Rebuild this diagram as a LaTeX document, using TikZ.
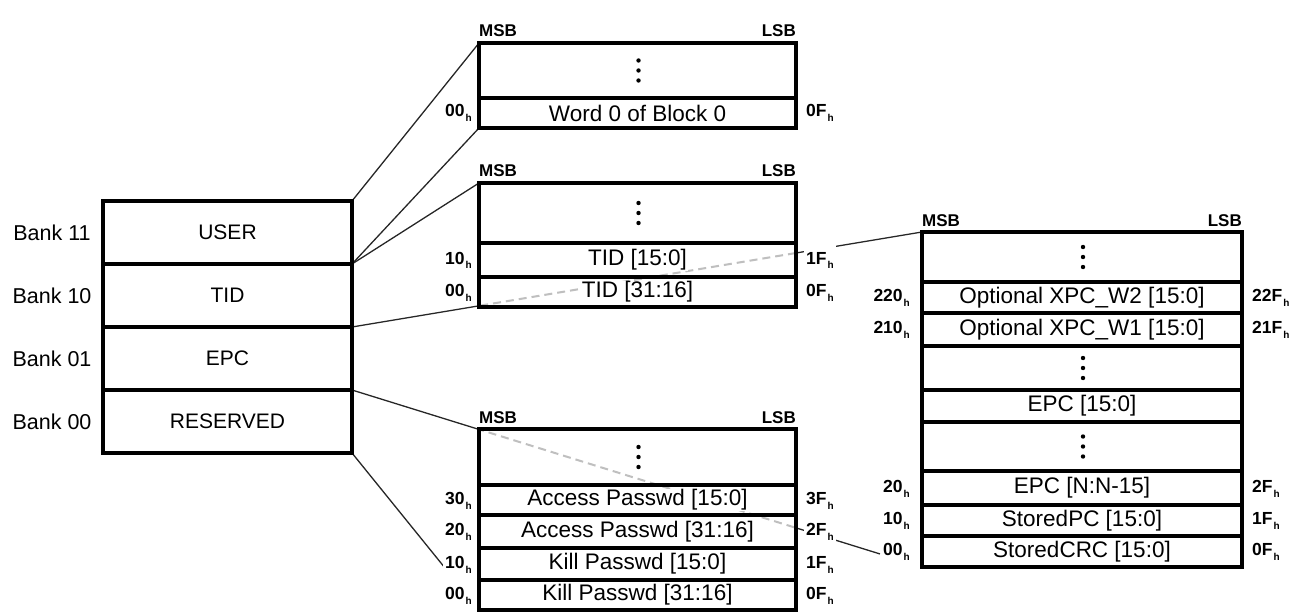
\documentclass[tikz,border=0pt]{standalone}
\usepackage{fontspec}
\setmainfont{Liberation Sans}
\usetikzlibrary{calc}
\pgfdeclarelayer{bg}
\pgfdeclarelayer{mid}
\pgfsetlayers{bg,mid,main}
\newcommand\wb[1]{{\setlength{\fboxsep}{1pt}\colorbox{white}{#1}}}
\newcommand\hx[1]{#1\kern1pt\raisebox{-5pt}{\fontsize{10}{10}\selectfont h}}
\tikzset{
  cellA/.style={draw, line width=3.2pt, inner sep=0pt, outer sep=0pt, minimum width=317pt, font=\fontsize{22.5}{24}\selectfont},
  cellB/.style={draw, line width=3.2pt, inner sep=0pt, outer sep=0pt, minimum width=320pt, font=\fontsize{22.5}{24}\selectfont},
  bank/.style={draw, line width=3.5pt, inner sep=0pt, outer sep=0pt, minimum width=249pt, minimum height=63pt, font=\fontsize{21}{24}\selectfont},
  banklbl/.style={font=\fontsize{21.5}{24}\selectfont, inner sep=0pt},
  bitlbl/.style={font=\bfseries\fontsize{17}{20}\selectfont, inner sep=0pt},
  addr/.style={font=\bfseries\fontsize{17.5}{20}\selectfont, fill=white, inner sep=2pt},
  blockframe/.style={line width=4.5pt},
  conn/.style={line width=1.3pt, draw=black!85},
  dashln/.style={line width=2pt, draw=black!25, dash pattern=on 8pt off 5pt},
  dotmark/.style={fill=black},
}
\begin{document}
\begin{tikzpicture}[x=1pt,y=-1pt]
\useasboundingbox (0,0) rectangle (1289,612);

% memory banks
\node[bank] (user) at (227.5,232.5) {USER};
\node[bank] (tid)  at (227.5,295.5) {TID};
\node[bank] (epc)  at (227.5,358.5) {EPC};
\node[bank] (res)  at (227.5,421.5) {RESERVED};
\draw[blockframe] (user.north west) rectangle (res.south east);
\node[banklbl] (b11) at (52,232.5) {Bank 11};
\node[banklbl] (b10) at (52,295.5) {Bank 10};
\node[banklbl] (b01) at (52,358.5) {Bank 01};
\node[banklbl] (b00) at (52,421.5) {Bank 00};

% USER block
\node[cellA, minimum height=55pt] (udots) at (637.5,70.5) {};
\node[cellA, minimum height=30pt] (uw0) at (637.5,113) {\wb{Word 0 of Block 0}};
\draw[blockframe] (udots.north west) rectangle (uw0.south east);

% TID block
\node[cellA, minimum height=60pt] (tdots) at (637.5,213) {};
\node[cellA, minimum height=34pt] (t15) at (637.5,260) {\wb{TID [15:0]}};
\node[cellA, minimum height=30pt] (t31) at (637.5,292) {\wb{TID [31:16]}};
\draw[blockframe] (tdots.north west) rectangle (t31.south east);

% RESERVED block
\node[cellA, minimum height=56pt] (rdots) at (637.5,457) {};
\node[cellA, minimum height=30pt] (a15) at (637.5,500) {\wb{Access Passwd [15:0]}};
\node[cellA, minimum height=33pt] (a31) at (637.5,531.5) {\wb{Access Passwd [31:16]}};
\node[cellA, minimum height=32pt] (k15) at (637.5,564) {\wb{Kill Passwd [15:0]}};
\node[cellA, minimum height=30pt] (k31) at (637.5,595) {\wb{Kill Passwd [31:16]}};
\draw[blockframe] (rdots.north west) rectangle (k31.south east);

% EPC block
\node[cellB, minimum height=50pt] (x1dots) at (1082,257) {};
\node[cellB, minimum height=31pt] (xw2) at (1082,297.5) {\wb{Optional XPC\_W2 [15:0]}};
\node[cellB, minimum height=33pt] (xw1) at (1082,329.5) {\wb{Optional XPC\_W1 [15:0]}};
\node[cellB, minimum height=44pt] (x2dots) at (1082,368) {};
\node[cellB, minimum height=32pt] (e15) at (1082,406) {\wb{EPC [15:0]}};
\node[cellB, minimum height=49pt] (x3dots) at (1082,446.5) {};
\node[cellB, minimum height=34pt] (en) at (1082,488) {\wb{EPC [N:N-15]}};
\node[cellB, minimum height=31pt] (spc) at (1082,520.5) {\wb{StoredPC [15:0]}};
\node[cellB, minimum height=31pt] (crc) at (1082,551.5) {\wb{StoredCRC [15:0]}};
\draw[blockframe] (x1dots.north west) rectangle (crc.south east);

% vertical dots
\foreach \c in {udots,tdots,rdots,x1dots,x2dots,x3dots}
  \foreach \d in {-10,0,10}
    \fill[dotmark] (\c.center) ++(1,\d) circle (2.2pt);

% MSB / LSB
\foreach \c/\n in {udots/u,tdots/t,rdots/r,x1dots/x}{
  \node[bitlbl, anchor=base west] (\n msb) at ($(\c.north west)+(0,-6)$) {MSB};
  \node[bitlbl, anchor=base east] (\n lsb) at ($(\c.north east)+(0,-6)$) {LSB};
}

% address labels, middle blocks
\foreach \c/\l/\r in {uw0/00/0F, t15/10/1F, t31/00/0F, a15/30/3F, a31/20/2F, k15/10/1F, k31/00/0F}{
  \node[addr, anchor=base east] (\c L) at ($(\c.west)+(-5,4)$) {\hx{\l}};
  \node[addr, anchor=base west] (\c R) at ($(\c.east)+(8,4)$) {\hx{\r}};
}
% address labels, EPC block
\foreach \c/\l/\r in {xw2/220/22F, xw1/210/21F, en/20/2F, spc/10/1F, crc/00/0F}{
  \node[addr, anchor=base east] (\c L) at ($(\c.west)+(-10,4)$) {\hx{\l}};
  \node[addr, anchor=base west] (\c R) at ($(\c.east)+(8,4)$) {\hx{\r}};
}

% connectors
\begin{pgfonlayer}{bg}
\draw[conn] (user.north east) -- (udots.north west);
\draw[conn] (user.south east) -- (uw0.south west);
\draw[conn] (user.south east) -- (tdots.north west);
\draw[conn] (tid.south east) -- (x1dots.north west);
\draw[conn, shorten >=44pt] (epc.south east) -- (crc.south west);
\draw[conn, shorten >=55pt] (res.south east) -- (k31.south west);
\end{pgfonlayer}

\begin{pgfonlayer}{mid}
\fill[white] (udots.north west) rectangle (uw0.south east);
\fill[white] (tdots.north west) rectangle (t31.south east);
\fill[white] (rdots.north west) rectangle (k31.south east);
\fill[white] (x1dots.north west) rectangle (crc.south east);
\fill[white] ($(t15R.north west)+(0,-6)$) rectangle (t15R.south east);
\begin{scope}
  \clip (tdots.north west) rectangle (t31.south east);
  \draw[dashln] (tid.south east) -- (x1dots.north west);
\end{scope}
\begin{scope}
  \clip (rdots.north west) rectangle (k31.south east);
  \draw[dashln] (epc.south east) -- (crc.south west);
\end{scope}
\end{pgfonlayer}
\end{tikzpicture}
\end{document}
